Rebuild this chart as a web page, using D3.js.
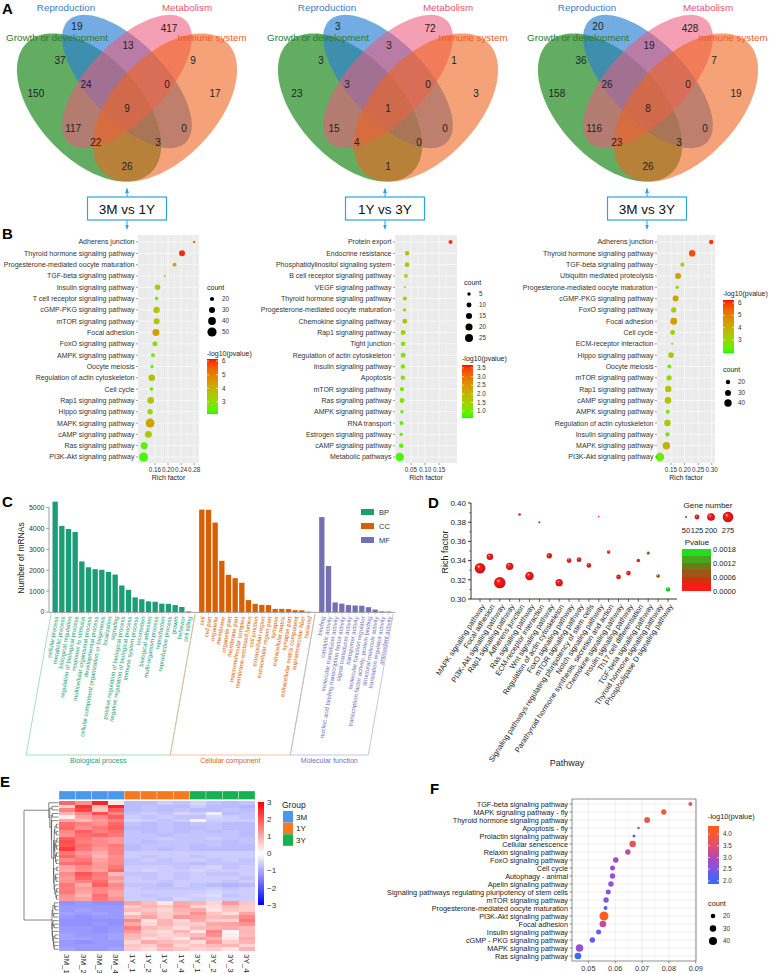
<!DOCTYPE html>
<html><head><meta charset="utf-8">
<script src="https://cdn.jsdelivr.net/npm/d3@7"></script>
<style>
html,body{margin:0;padding:0;background:#fff}
svg{display:block}
</style></head><body>
<svg id="fig" width="770" height="973"></svg>
<script>
// ================= DATA =================
// Panel A – Venn diagrams
const vennSets = ["Growth or development","Reproduction","Metabolism","Immune system"];
const vennComparisons = ["3M vs 1Y","1Y vs 3Y","3M vs 3Y"];
// region order: R, M, G∩R, R∩M, M∩I, G, G∩R∩M, R∩M∩I, I, all, G∩M, R∩I, G∩M∩I, G∩R∩I, G∩I
const venn3Mvs1Y = [19,417,37,13,9,150,24,0,17,9,117,0,22,3,26];
const venn1Yvs3Y = [3,72,3,3,1,23,3,0,3,1,15,0,4,0,1];
const venn3Mvs3Y = [20,428,36,19,7,158,26,0,19,8,116,0,23,3,26];

// Panel B – KEGG dot plots
const b1Pathways = ["Adherens junction","Thyroid hormone signaling pathway","Progesterone-mediated oocyte maturation","TGF-beta signaling pathway","Insulin signaling pathway","T cell receptor signaling pathway","cGMP-PKG signaling pathway","mTOR signaling pathway","Focal adhesion","FoxO signaling pathway","AMPK signaling pathway","Oocyte meiosis","Regulation of actin cytoskeleton","Cell cycle","Rap1 signaling pathway","Hippo signaling pathway","MAPK signaling pathway","cAMP signaling pathway","Ras signaling pathway","PI3K-Akt signaling pathway"];
const b1Rich = [0.280,0.243,0.220,0.190,0.168,0.165,0.165,0.165,0.163,0.160,0.154,0.151,0.150,0.149,0.147,0.145,0.145,0.140,0.127,0.125];
const b1Count = [13,29,19,11,27,17,31,29,35,24,19,16,33,17,33,26,48,35,35,48];
const b1LogP = [5.3,6.0,4.2,3.3,3.5,2.6,3.7,3.5,4.4,3.1,2.6,2.4,3.6,2.4,3.5,3.0,4.3,3.4,2.4,2.3];

const b2Pathways = ["Protein export","Endocrine resistance","Phosphatidylinositol signaling system","B cell receptor signaling pathway","VEGF signaling pathway","Thyroid hormone signaling pathway","Progesterone-mediated oocyte maturation","Chemokine signaling pathway","Rap1 signaling pathway","Tight junction","Regulation of actin cytoskeleton","Insulin signaling pathway","Apoptosis","mTOR signaling pathway","Ras signaling pathway","AMPK signaling pathway","RNA transport","Estrogen signaling pathway","cAMP signaling pathway","Metabolic pathways"];
const b2Rich = [0.191,0.036,0.036,0.032,0.028,0.028,0.027,0.028,0.022,0.022,0.022,0.021,0.021,0.018,0.018,0.018,0.016,0.015,0.015,0.010];
const b2Count = [7,8,9,6,2,7,5,10,10,9,10,8,8,8,10,5,7,5,8,27];
const b2LogP = [3.5,1.7,1.6,1.4,1.3,1.4,1.3,1.6,1.4,1.2,1.3,1.1,1.1,1.0,1.1,0.9,0.9,0.8,0.8,0.75];

const b3Pathways = ["Adherens junction","Thyroid hormone signaling pathway","TGF-beta signaling pathway","Ubiquitin mediated proteolysis","Progesterone-mediated oocyte maturation","cGMP-PKG signaling pathway","FoxO signaling pathway","Focal adhesion","Cell cycle","ECM-receptor interaction","Hippo signaling pathway","Oocyte meiosis","mTOR signaling pathway","Rap1 signaling pathway","cAMP signaling pathway","AMPK signaling pathway","Regulation of actin cytoskeleton","Insulin signaling pathway","MAPK signaling pathway","PI3K-Akt signaling pathway"];
const b3Rich = [0.298,0.228,0.192,0.176,0.173,0.167,0.160,0.160,0.156,0.154,0.150,0.144,0.143,0.140,0.139,0.138,0.137,0.137,0.133,0.109];
const b3Count = [20,33,18,30,15,30,25,36,23,10,27,18,25,33,34,18,33,20,40,50];
const b3LogP = [6.0,5.8,3.3,4.3,2.9,4.2,3.3,4.4,3.2,2.6,3.4,2.5,2.8,3.5,3.6,2.4,3.4,2.7,4.0,2.4];

// Panel C – GO annotation
const bpTerms = ["cellular process","metabolic process","biological regulation","regulation of biological process","response to stimulus","multicellular organismal process","developmental process","cellular component organization or biogenesis","localization","signaling","positive regulation of biological process","negative regulation of biological process","immune system process","locomotion","biological adhesion","multi-organism process","reproduction","reproductive process","growth","behavior","cell killing"];
const bpCounts = [5280,4120,3970,3830,2420,2140,2050,2020,1920,1790,1270,1060,700,610,510,490,400,390,330,240,30];
const ccTerms = ["cell","cell part","organelle","membrane","organelle part","membrane part","macromolecular complex","membrane-enclosed lumen","cell junction","extracellular region","extracellular region part","synapse","extracellular matrix","synapse part","extracellular matrix component","supramolecular fiber","nucleoid"];
const ccCounts = [4900,4890,4280,2450,1780,1620,1400,570,390,340,330,150,150,140,90,80,15];
const mfTerms = ["binding","catalytic activity","molecular transducer activity","nucleic acid binding transcription factor activity","signal transducer activity","transporter activity","molecular function regulator","transcription factor activity, protein binding","structural molecule activity","translation regulator activity","antioxidant activity"];
const mfCounts = [4540,2200,460,400,330,310,300,230,120,30,20];
const cYTicks = [0,1000,2000,3000,4000,5000];

// Panel D – bubble chart
const dPathways = ["MAPK signaling pathway","Focal adhesion","PI3K-Akt signaling pathway","Rap1 signaling pathway","Adherens junction","Ras signaling pathway","ECM-receptor interaction","Wnt signaling pathway","Regulation of actin cytoskeleton","FoxO signaling pathway","mTOR signaling pathway","Signaling pathways regulating pluripotency of stem cells","Notch signaling pathway","Parathyroid hormone synthesis, secretion and action","Chemokine signaling pathway","Insulin signaling pathway","Th17 cell differentiation","TGF-beta signaling pathway","Thyroid hormone signaling pathway","Phospholipase D signaling pathway"];
const dRich = [0.332,0.344,0.317,0.334,0.388,0.324,0.380,0.345,0.317,0.340,0.341,0.335,0.386,0.349,0.323,0.327,0.340,0.348,0.324,0.310];
const dGenes = [275,170,295,190,65,220,50,140,190,120,120,120,40,90,120,120,90,80,95,115];
const dPvalue = [0.00001,0.00002,0.00001,0.00002,0.0001,0.00002,0.0002,0.0001,0.00003,0.0001,0.0001,0.0001,0.0002,0.0002,0.0001,0.0001,0.0004,0.0007,0.0008,0.0017];
const dYTicks = [0.30,0.32,0.34,0.36,0.38,0.40];
const dGeneLegend = [50,125,200,275];
const dPLegend = [0.0000,0.0006,0.0012,0.0018];

// Panel E – heatmap (z-scores)
const heatSamples = ["3M_1","3M_2","3M_3","3M_4","1Y_1","1Y_2","1Y_3","1Y_4","3Y_1","3Y_2","3Y_3","3Y_4"];
const heatGroups = ["3M","1Y","3Y"];
const heatRows = [
 [1.3,0.9,1.7,1.1,-0.6,-0.7,-0.6,-0.6,-0.5,-0.4,-0.7,-0.6],
 [0.9,1.4,2.1,1.5,-0.7,-0.6,-0.7,-0.5,-0.6,-0.2,-0.8,-0.7],
 [0.2,1.1,1.4,1.9,-0.6,-0.7,-0.6,-0.7,-0.7,-0.5,-0.6,-0.7],
 [1.8,1.3,2.6,0.3,-0.8,-0.8,-0.6,-0.7,-0.5,-0.7,-0.8,-0.7],
 [1.1,0.8,1.2,1.5,-0.5,-0.6,-0.7,-0.6,0.2,-0.6,-0.6,-0.6],
 [0.5,2.4,0.8,2.6,-0.8,-0.7,-0.8,-0.8,-0.6,-0.8,-0.8,-0.9],
 [1.5,1.2,1.4,1.3,-0.6,-0.7,-0.7,-0.7,-0.7,-0.6,-0.7,-0.6],
 [1.4,1.6,1.1,1.4,-0.7,-0.6,-0.7,-0.6,-0.6,-0.7,-0.6,-0.7],
 [1.7,1.5,1.3,1.8,-0.7,-0.8,-0.7,-0.8,-0.7,-0.7,-0.8,-0.8],
 [1.2,1.8,1.5,1.2,-0.6,-0.7,-0.6,-0.7,-0.6,-0.6,-0.6,-0.7],
 [1.6,1.0,1.9,1.4,-0.7,-0.7,-0.8,-0.6,-0.7,-0.8,-0.9,-0.8],
 [2.0,1.7,1.4,1.6,-0.8,-0.7,-0.7,-0.7,-0.8,-0.7,-0.8,-0.8],
 [1.3,1.5,1.7,1.0,-0.6,-0.6,-0.7,-0.6,-0.6,-0.6,-0.7,-0.6],
 [1.8,1.3,1.6,1.9,-0.8,-0.8,-0.7,-0.8,-0.8,-0.7,-0.8,-0.8],
 [1.1,1.4,1.2,1.6,-0.6,-0.6,-0.6,-0.7,-0.6,-0.5,-0.7,-0.6],
 [1.9,1.6,1.3,1.2,-0.7,-0.7,-0.6,-0.7,-0.7,-0.6,-0.7,-0.7],
 [1.4,1.9,1.5,1.7,-0.7,-0.8,-0.7,-0.8,-0.7,-0.8,-0.7,-0.8],
 [1.6,1.2,1.0,1.5,-0.6,-0.6,-0.6,-0.6,-0.6,-0.6,-0.6,-0.6],
 [1.2,1.1,1.6,1.3,-0.6,-0.6,-0.7,-0.5,-0.6,-0.5,-0.6,-0.6],
 [1.7,1.8,1.2,1.4,-0.7,-0.7,-0.7,-0.7,-0.8,-0.7,-0.7,-0.7],
 [1.5,2.2,0.7,1.9,-0.8,-0.7,-0.8,-0.7,-0.8,-0.8,-0.7,-0.8],
 [2.1,1.5,1.4,1.2,-0.7,-0.8,-0.7,-0.7,-0.7,-0.7,-0.8,-0.7],
 [1.3,1.7,1.8,1.6,-0.7,-0.7,-0.8,-0.7,-0.7,-0.7,-0.7,-0.8],
 [1.0,1.3,1.1,1.8,-0.6,-0.5,-0.6,-0.6,-0.5,-0.6,-0.6,-0.6],
 [1.8,1.4,0.9,1.3,-0.6,-0.7,-0.6,-0.6,-0.7,-0.6,-0.6,-0.6],
 [1.4,2.0,1.6,0.8,-0.7,-0.7,-0.6,-0.7,-0.6,-0.7,-0.7,-0.6],
 [2.3,1.6,1.2,1.5,-0.8,-0.7,-0.8,-0.7,-0.8,-0.8,-0.8,-0.8],
 [1.6,1.1,1.4,1.1,-0.6,-0.6,-0.6,-0.6,-0.6,-0.5,-0.6,-0.6],
 [-1.2,-1.2,-1.3,-1.2,1.2,0.6,0.4,0.9,0.3,1.5,0.1,0.9],
 [-1.1,-1.2,-1.2,-1.1,0.9,0.7,0.5,0.6,0.8,1.3,0.2,0.8],
 [-1.3,-1.3,-1.3,-1.3,1.4,0.3,0.9,0.4,1.0,0.6,0.5,1.6],
 [-1.2,-1.2,-1.2,-1.2,0.6,0.9,0.7,1.1,0.5,0.4,0.8,0.6],
 [-1.1,-1.1,-1.2,-1.1,0.8,0.4,0.6,0.3,1.1,0.9,0.3,1.0],
 [-1.2,-1.3,-1.2,-1.2,0.5,1.0,0.8,0.7,0.4,1.2,0.6,0.9],
 [-1.3,-1.2,-1.3,-1.3,1.1,0.8,0.3,1.0,0.9,0.5,1.2,0.7],
 [-1.2,-1.2,-1.2,-1.2,0.7,0.6,1.0,0.5,0.7,0.8,0.9,0.5],
 [-1.1,-1.2,-1.1,-1.2,0.4,0.9,0.6,0.8,1.3,0.7,0.4,1.1],
 [-1.3,-1.3,-1.2,-1.3,1.0,0.5,0.9,0.6,0.6,1.0,1.1,1.3],
 [-1.2,-1.1,-1.2,-1.2,0.8,0.7,0.5,0.9,1.0,0.3,0.7,0.6],
 [-1.2,-1.2,-1.3,-1.2,1.5,0.8,0.7,0.4,0.8,0.9,1.0,0.8],
 [-1.1,-1.2,-1.2,-1.1,0.6,0.4,0.8,0.7,0.5,0.6,0.3,0.9],
 [-1.2,-1.3,-1.2,-1.2,0.9,1.1,0.6,1.2,1.1,0.8,0.9,1.4]
];
const heatLegendTicks = [-3,-2,-1,0,1,2,3];

// Panel F – dot plot
const fPathways = ["TGF-beta signaling pathway","MAPK signaling pathway - fly","Thyroid hormone signaling pathway","Apoptosis - fly","Prolactin signaling pathway","Cellular senescence","Relaxin signaling pathway","FoxO signaling pathway","Cell cycle","Autophagy - animal","Apelin signaling pathway","Signaling pathways regulating pluripotency of stem cells","mTOR signaling pathway","Progesterone-mediated oocyte maturation","PI3K-Akt signaling pathway","Focal adhesion","Insulin signaling pathway","cGMP - PKG signaling pathway","MAPK signaling pathway","Ras signaling pathway"];
const fRich = [0.0880,0.0781,0.0719,0.0687,0.0670,0.0665,0.0647,0.0602,0.0590,0.0590,0.0584,0.0574,0.0566,0.0564,0.0558,0.0554,0.0538,0.0515,0.0467,0.0461];
const fCount = [17,24,27,11,13,30,24,25,22,24,24,22,24,17,47,31,22,24,37,31];
const fLogP = [3.7,4.0,3.8,2.3,2.4,3.7,3.1,2.8,2.7,2.75,2.7,2.6,2.6,2.0,4.3,3.2,2.3,2.2,2.75,1.95];
const fXTicks = [0.05,0.06,0.07,0.08,0.09];

// ================= DRAWING =================
const FF = "'Liberation Sans', Arial, Helvetica, sans-serif";
const svg = d3.select("#fig").attr("font-family", FF);
const defs = svg.append("defs");

function txt(x, y, s, o = {}) {
  const t = svg.append("text").attr("x", x).attr("y", y).text(s)
    .attr("font-size", o.fs || 8).attr("fill", o.fill || "#222")
    .attr("text-anchor", o.anchor || "start");
  if (o.dy) t.attr("dy", o.dy);
  if (o.weight) t.attr("font-weight", o.weight);
  if (o.rotate !== undefined) t.attr("transform", `rotate(${o.rotate},${x},${y})`);
  return t;
}

// panel letters
[["A",2,14],["B",2,239],["C",2,507],["D",428,508],["E",0,787],["F",430,794]]
  .forEach(([l,x,y]) => txt(x,y,l,{fs:15,weight:"bold",fill:"#000"}));

// ---------- Panel A ----------
const vennCenters = [127, 388, 648];
const boxCenters = [127, 385, 647];
const vennData = [venn3Mvs1Y, venn1Yvs3Y, venn3Mvs3Y];
const vennEllipses = [
  {cx:0.35, cy:0.47, a:0.35, b:0.20, ang:135, fill:"#1f8a1f", op:0.7},
  {cx:0.50, cy:0.57, a:0.33, b:0.15, ang:135, fill:"#2a7fd4", op:0.66},
  {cx:0.50, cy:0.57, a:0.33, b:0.15, ang:45,  fill:"#ec5a7c", op:0.58},
  {cx:0.65, cy:0.47, a:0.35, b:0.20, ang:45,  fill:"#f0641e", op:0.6}
];
const vennRegionPos = [[0.302,0.782],[0.666,0.772],[0.235,0.649],[0.504,0.707],[0.761,0.649],[0.140,0.522],[0.338,0.560],[0.658,0.560],[0.848,0.522],[0.500,0.468],[0.287,0.391],[0.725,0.391],[0.377,0.337],[0.623,0.337],[0.500,0.245]];
const vennLabelStyle = [
  {set:0, dx:-70, y:41, color:"#2c7a2c"},
  {set:1, dx:-61, y:11, color:"#3b7cc8"},
  {set:2, dx:60,  y:11, color:"#e65570"},
  {set:3, dx:85,  y:41, color:"#f05a24"}
];
const ARROW = "#2ea4dc";
defs.append("marker").attr("id","arr").attr("viewBox","0 0 10 10").attr("refX",9).attr("refY",5)
  .attr("markerWidth",5).attr("markerHeight",5).attr("orient","auto")
  .append("path").attr("d","M0,1 L10,5 L0,9 Z").attr("fill",ARROW);

vennComparisons.forEach((comp, i) => {
  const cx = vennCenters[i];
  const sx = d3.scaleLinear().domain([0.5, 1.5]).range([cx, cx + 253]);
  const sy = d3.scaleLinear().domain([0.57, 1.57]).range([81.5, 81.5 - 260]);
  const line = d3.line().x(p => sx(p[0])).y(p => sy(p[1]));
  vennEllipses.forEach(e => {
    const th = e.ang * Math.PI / 180;
    const pts = d3.range(0, 361, 3).map(d => {
      const t = d * Math.PI / 180;
      return [e.cx + e.a*Math.cos(t)*Math.cos(th) - e.b*Math.sin(t)*Math.sin(th),
              e.cy + e.a*Math.cos(t)*Math.sin(th) + e.b*Math.sin(t)*Math.cos(th)];
    });
    svg.append("path").attr("d", line(pts) + "Z").attr("fill", e.fill).attr("fill-opacity", e.op);
  });
  vennData[i].forEach((v, k) => {
    txt(sx(vennRegionPos[k][0]), sy(vennRegionPos[k][1]), v, {fs:10, anchor:"middle", dy:"0.35em", fill:"#222"});
  });
  vennLabelStyle.forEach(l => txt(cx + l.dx, l.y, vennSets[l.set], {fs:9.8, anchor:"middle", fill:l.color}));
  // box + arrows
  const bx = boxCenters[i];
  svg.append("line").attr("x1",bx).attr("x2",bx).attr("y1",197).attr("y2",188.5)
    .attr("stroke",ARROW).attr("stroke-width",1).attr("marker-end","url(#arr)");
  svg.append("line").attr("x1",bx).attr("x2",bx).attr("y1",220).attr("y2",229)
    .attr("stroke",ARROW).attr("stroke-width",1).attr("marker-end","url(#arr)");
  svg.append("rect").attr("x",bx-39.5).attr("y",197).attr("width",79).attr("height",23)
    .attr("fill","#fff").attr("stroke",ARROW).attr("stroke-width",1.2);
  txt(bx, 213.5, comp, {fs:13.5, anchor:"middle", fill:"#111"});
});

// ---------- helpers for colour bars ----------
function colorBar(o) {
  const grad = defs.append("linearGradient").attr("id", o.id)
    .attr("x1",0).attr("y1",1).attr("x2",0).attr("y2",0);
  d3.range(0, 41).forEach(i => {
    const t = i / 40;
    grad.append("stop").attr("offset", t).attr("stop-color", o.scale(o.lo + t*(o.hi - o.lo)));
  });
  svg.append("rect").attr("x",o.x).attr("y",o.y).attr("width",o.w).attr("height",o.h).attr("fill",`url(#${o.id})`);
  const yy = d3.scaleLinear().domain([o.lo, o.hi]).range([o.y + o.h, o.y]);
  o.ticks.forEach(t => {
    if (o.marks) {
      svg.append("line").attr("x1",o.x).attr("x2",o.x+2).attr("y1",yy(t)).attr("y2",yy(t)).attr("stroke","#fff").attr("stroke-width",0.6);
      svg.append("line").attr("x1",o.x+o.w-2).attr("x2",o.x+o.w).attr("y1",yy(t)).attr("y2",yy(t)).attr("stroke","#fff").attr("stroke-width",0.6);
    }
    txt(o.lx, yy(t), o.fmt(t), {fs:o.fs, dy:"0.35em", fill:"#333"});
  });
}

// ---------- Panel B ----------
const greenRed = dom => d3.scaleLinear().domain(dom).range(["#00ff00","#ff0000"]).interpolate(d3.interpolateLab).clamp(true);

function dotPlot(o) {
  const top = 235, bottom = 463;
  const x = d3.scaleLinear().domain(o.xDomain).range([o.left, o.right]);
  const y = d3.scalePoint().domain(o.pathways).range([242, 457]);
  const col = greenRed(o.colorDomain);
  const r = d3.scalePow().exponent(0.5).domain(o.sizeDomain).range(o.sizeRange);
  const g = svg.append("g");
  g.append("rect").attr("x",o.left).attr("y",top).attr("width",o.right-o.left).attr("height",bottom-top).attr("fill","#ebebeb");
  const step = o.ticks[1] - o.ticks[0];
  const minors = [o.ticks[0]-step/2, ...o.ticks.map(t => t+step/2)].filter(v => v > o.xDomain[0] && v < o.xDomain[1]);
  minors.forEach(v => g.append("line").attr("x1",x(v)).attr("x2",x(v)).attr("y1",top).attr("y2",bottom).attr("stroke","#fff").attr("stroke-width",0.3));
  o.ticks.forEach(v => g.append("line").attr("x1",x(v)).attr("x2",x(v)).attr("y1",top).attr("y2",bottom).attr("stroke","#fff").attr("stroke-width",0.6));
  o.pathways.forEach(p => g.append("line").attr("x1",o.left).attr("x2",o.right).attr("y1",y(p)).attr("y2",y(p)).attr("stroke","#fff").attr("stroke-width",0.6));
  o.pathways.forEach((p, i) => {
    g.append("circle").attr("cx", x(o.rich[i])).attr("cy", y(p)).attr("r", Math.max(0.8, r(o.count[i]))).attr("fill", col(o.logp[i]));
  });
  o.pathways.forEach(p => {
    g.append("line").attr("x1",o.left-2).attr("x2",o.left).attr("y1",y(p)).attr("y2",y(p)).attr("stroke","#333").attr("stroke-width",0.5);
    txt(o.left-3.5, y(p), p, {fs:7, anchor:"end", dy:"0.35em", fill:"#333"});
  });
  o.ticks.forEach(v => {
    g.append("line").attr("x1",x(v)).attr("x2",x(v)).attr("y1",bottom).attr("y2",bottom+2).attr("stroke","#333").attr("stroke-width",0.5);
    txt(x(v), bottom+8.5, d3.format(o.tickFmt)(v), {fs:6.3, anchor:"middle", fill:"#333"});
  });
  txt((o.left+o.right)/2, 480, "Rich factor", {fs:7, anchor:"middle", fill:"#222"});
  // legends
  const L = o.legend;
  txt(L.countX, L.countY, "count", {fs:7, fill:"#222"});
  o.sizeTicks.forEach((s, k) => {
    svg.append("circle").attr("cx", L.countX+5).attr("cy", L.countItems[k]).attr("r", r(s)).attr("fill","#000");
    txt(L.countX+15, L.countItems[k], s, {fs:6.3, dy:"0.35em", fill:"#333"});
  });
  txt(L.barX, L.barTitleY, "-log10(pvalue)", {fs:7, fill:"#222"});
  colorBar({id:o.id, x:L.barX, y:L.barY, w:11, h:L.barH, scale:col, lo:o.colorDomain[0], hi:o.colorDomain[1],
    ticks:o.colorTicks, fmt:d3.format(o.colorFmt), lx:L.barX+15, fs:6.3, marks:true});
}

dotPlot({id:"gB1", pathways:b1Pathways, rich:b1Rich, count:b1Count, logp:b1LogP,
  left:138, right:199, xDomain:[0.108,0.295], ticks:[0.16,0.20,0.24,0.28], tickFmt:".2f",
  colorDomain:[2.12,6.15], colorTicks:[3,4,5,6], colorFmt:"d",
  sizeDomain:[20,50], sizeRange:[2.1,4.6], sizeTicks:[20,30,40,50],
  legend:{countX:207, countY:290, countItems:[299,310,321,332], barX:207, barTitleY:356, barY:359, barH:55}});

dotPlot({id:"gB2", pathways:b2Pathways, rich:b2Rich, count:b2Count, logp:b2LogP,
  left:395, right:457, xDomain:[-0.007,0.214], ticks:[0.05,0.10,0.15], tickFmt:".2f",
  colorDomain:[0.6,3.67], colorTicks:[1.0,1.5,2.0,2.5,3.0,3.5], colorFmt:".1f",
  sizeDomain:[5,25], sizeRange:[1.7,4.0], sizeTicks:[5,10,15,20,25],
  legend:{countX:464, countY:285, countItems:[294,305,316,327,338], barX:462, barTitleY:361, barY:365, barH:53}});

dotPlot({id:"gB3", pathways:b3Pathways, rich:b3Rich, count:b3Count, logp:b3LogP,
  left:657, right:715, xDomain:[0.0985,0.312], ticks:[0.15,0.20,0.25,0.30], tickFmt:".2f",
  colorDomain:[1.94,6.24], colorTicks:[3,4,5,6], colorFmt:"d",
  sizeDomain:[20,40], sizeRange:[2.2,3.7], sizeTicks:[20,30,40],
  legend:{countX:723, countY:372, countItems:[382,393,403], barX:723, barTitleY:296, barY:300, barH:53}});

// ---------- Panel C ----------
const cGroups = [
  {key:"BP", name:"Biological process", terms:bpTerms, counts:bpCounts, color:"#1b9e77", light:"#8fd3be"},
  {key:"CC", name:"Cellular component", terms:ccTerms, counts:ccCounts, color:"#d95f02", light:"#f2b48a"},
  {key:"MF", name:"Molecular function", terms:mfTerms, counts:mfCounts, color:"#7570b3", light:"#b8b5dc"}
];
const cKeys = [];
cGroups.forEach((g, gi) => { if (gi > 0) cKeys.push("gap" + gi); g.terms.forEach(t => cKeys.push(g.key + "|" + t)); });
const xb = d3.scaleBand().domain(cKeys).range([52.5, 52.5 + cKeys.length*6.64]).paddingInner(0.2).paddingOuter(0);
const yc = d3.scaleLinear().domain([0, 5000]).range([612, 507.5]);
const bw = xb.bandwidth();
cGroups.forEach(g => {
  g.terms.forEach((t, i) => {
    const k = g.key + "|" + t;
    svg.append("rect").attr("x", xb(k)).attr("y", yc(g.counts[i])).attr("width", bw)
      .attr("height", yc(0) - yc(g.counts[i])).attr("fill", g.color);
  });
});
// axes
svg.append("line").attr("x1",49).attr("x2",49).attr("y1",612).attr("y2",507).attr("stroke","#888").attr("stroke-width",0.8);
svg.append("line").attr("x1",49).attr("x2",395).attr("y1",612.4).attr("y2",612.4).attr("stroke","#888").attr("stroke-width",0.8);
cYTicks.forEach(v => {
  svg.append("line").attr("x1",46).attr("x2",49).attr("y1",yc(v)).attr("y2",yc(v)).attr("stroke","#888").attr("stroke-width",0.8);
  txt(44.5, yc(v), v, {fs:7, anchor:"end", dy:"0.35em", fill:"#333"});
});
txt(24, 558, "Number of mRNAs", {fs:8.5, anchor:"middle", rotate:-90, fill:"#222"});
const slope = Math.tan(10 * Math.PI / 180);
cGroups.forEach((g, gi) => {
  g.terms.forEach(t => {
    const k = g.key + "|" + t;
    const cxp = xb(k) + bw/2;
    svg.append("line").attr("x1",cxp).attr("x2",cxp).attr("y1",612.4).attr("y2",614.5).attr("stroke","#999").attr("stroke-width",0.5);
    txt(cxp + 1.5, 616.5, t, {fs:6, anchor:"end", fill:g.color, rotate:-80, dy:"0.3em"});
  });
  const firstK = g.key + "|" + g.terms[0], lastK = g.key + "|" + g.terms[g.terms.length-1];
  const eL = gi === 0 ? xb(firstK) - 1.5 : xb("gap" + gi) + bw/2;
  const eR = gi === cGroups.length-1 ? xb(lastK) + bw + 2 : xb("gap" + (gi+1)) + bw/2;
  const top = 614, bot = 755, off = (bot - top) * slope;
  svg.append("path").attr("d", `M${eL},${top}L${eL-off},${bot}L${eR-off},${bot}L${eR},${top}`)
    .attr("fill","none").attr("stroke", g.light).attr("stroke-width",0.8);
  txt((eL + eR)/2 - off, 763, g.name, {fs:7, anchor:"middle", fill:g.color});
});
// C legend
cGroups.forEach((g, i) => {
  svg.append("rect").attr("x",361).attr("y",509 + i*14).attr("width",13).attr("height",6).attr("fill",g.color);
  txt(379, 512 + i*14, g.key, {fs:7.5, dy:"0.35em", fill:"#333"});
});

// ---------- Panel D ----------
const xd = d3.scalePoint().domain(dPathways).range([480, 668]);
const yd = d3.scaleLinear().domain([0.30, 0.40]).range([599, 503]);
const rd = d3.scaleLinear().domain([0, 275]).range([0, 5.3]);
const pColors = ["#ff1a1a","#d2300f","#a05518","#6e7a18","#45a81e","#22dd22"];
const pd = d3.scaleQuantize().domain([0, 0.0018]).range(pColors);
pColors.forEach((c, i) => {
  const gr = defs.append("radialGradient").attr("id","sph"+i).attr("cx","50%").attr("cy","50%").attr("r","55%").attr("fx","35%").attr("fy","30%");
  gr.append("stop").attr("offset","0%").attr("stop-color", d3.interpolateRgb(c, "#fff")(0.75));
  gr.append("stop").attr("offset","30%").attr("stop-color", c);
  gr.append("stop").attr("offset","100%").attr("stop-color", d3.color(c).darker(0.9));
});
const sph = p => "url(#sph" + pColors.indexOf(pd(p)) + ")";
// axes
svg.append("line").attr("x1",471).attr("x2",471).attr("y1",599).attr("y2",503).attr("stroke","#000").attr("stroke-width",0.8);
svg.append("line").attr("x1",471).attr("x2",677).attr("y1",599).attr("y2",599).attr("stroke","#000").attr("stroke-width",0.8);
dYTicks.forEach(v => {
  svg.append("line").attr("x1",468).attr("x2",471).attr("y1",yd(v)).attr("y2",yd(v)).attr("stroke","#000").attr("stroke-width",0.8);
  txt(466, yd(v), d3.format(".2f")(v), {fs:8, anchor:"end", dy:"0.35em", fill:"#222"});
});
dYTicks.slice(0,-1).forEach(v => {
  const m = v + 0.01;
  svg.append("line").attr("x1",469.5).attr("x2",471).attr("y1",yd(m)).attr("y2",yd(m)).attr("stroke","#000").attr("stroke-width",0.6);
});
dPathways.forEach((p, i) => {
  svg.append("line").attr("x1",xd(p)).attr("x2",xd(p)).attr("y1",599).attr("y2",602).attr("stroke","#000").attr("stroke-width",0.6);
  txt(xd(p) + 3, 605, p, {fs:7.5, anchor:"end", rotate:-57, dy:"0.35em", fill:"#222"});
});
dPathways.forEach((p, i) => {
  svg.append("circle").attr("cx", xd(p)).attr("cy", yd(dRich[i])).attr("r", rd(dGenes[i])).attr("fill", sph(dPvalue[i]));
});
txt(448, 552, "Rich factor", {fs:9, anchor:"middle", rotate:-90, fill:"#222"});
txt(567, 766, "Pathway", {fs:9, anchor:"middle", fill:"#222"});
// D legends
txt(708, 508, "Gene number", {fs:8, anchor:"middle", fill:"#222"});
const gx = [686, 697, 711, 728];
dGeneLegend.forEach((gn, k) => {
  svg.append("circle").attr("cx", gx[k]).attr("cy", 517).attr("r", rd(gn)).attr("fill", sph(0));
  txt(gx[k], 533, gn, {fs:7.5, anchor:"middle", fill:"#222"});
});
txt(697, 545, "Pvalue", {fs:8, anchor:"middle", fill:"#222"});
const yp = d3.scaleLinear().domain([0, 0.0018]).range([591, 549]);
pColors.forEach(c => {
  const [a, b] = pd.invertExtent(c);
  svg.append("rect").attr("x",682).attr("y",yp(b)).attr("width",29).attr("height",yp(a)-yp(b)).attr("fill",c);
});
dPLegend.forEach(v => txt(713, yp(v), d3.format(".4f")(v), {fs:7.5, dy:"0.35em", fill:"#222"}));

// ---------- Panel E ----------
function hclust(rows) {
  const D = rows.map(a => rows.map(b => Math.sqrt(d3.sum(a, (v, k) => (v - b[k]) ** 2))));
  let cl = rows.map((r, i) => ({leaves:[i], h:0, idx:i}));
  while (cl.length > 1) {
    let best = [0, 1, Infinity];
    for (let i = 0; i < cl.length; i++) for (let j = i + 1; j < cl.length; j++) {
      const d = d3.mean(cl[i].leaves.flatMap(a => cl[j].leaves.map(b => D[a][b])));
      if (d < best[2]) best = [i, j, d];
    }
    const [i, j, d] = best;
    const n = {children:[cl[i], cl[j]], leaves:[...cl[i].leaves, ...cl[j].leaves], h:d};
    cl = cl.filter((_, k) => k !== i && k !== j);
    cl.push(n);
  }
  return cl[0];
}
const tree = hclust(heatRows);
tree.children.sort((a, b) => b.leaves.length - a.leaves.length);
const root = d3.hierarchy(tree, d => d.children);
const order = root.leaves().map(l => l.data.idx);
const hx = d3.scaleBand().domain(heatSamples).range([59, 255]);
const hy = d3.scaleBand().domain(order).range([801, 951]);
const heatColor = d3.scaleLinear().domain([-3, 0, 3]).range(["#0000ff", "#ffffff", "#ff0000"]);
order.forEach(ri => {
  heatSamples.forEach((s, ci) => {
    svg.append("rect").attr("x", hx(s)).attr("y", hy(ri)).attr("width", hx.bandwidth() + 0.3)
      .attr("height", hy.bandwidth() + 0.3).attr("fill", heatColor(heatRows[ri][ci])).attr("shape-rendering","crispEdges");
  });
});
const groupColor = d3.scaleOrdinal().domain(heatGroups).range(["#4a98ec","#f57a1f","#16b252"]);
heatSamples.forEach(s => {
  svg.append("rect").attr("x", hx(s)).attr("y", 791).attr("width", hx.bandwidth()).attr("height", 8.5)
    .attr("fill", groupColor(s.split("_")[0])).attr("stroke","#fff").attr("stroke-width",0.3);
  txt(hx(s) + hx.bandwidth()/2, 954, s, {fs:8, rotate:90, dy:"0.35em", fill:"#222"});
});
// dendrogram
const dx = d3.scaleLinear().domain([0, tree.h]).range([58.5, 24]);
const ypos = new Map();
root.eachAfter(n => {
  if (!n.children) ypos.set(n, hy(n.data.idx) + hy.bandwidth()/2);
  else ypos.set(n, d3.mean(n.children, c => ypos.get(c)));
});
root.each(n => {
  if (!n.children) return;
  const [c1, c2] = n.children;
  svg.append("path").attr("d", `M${dx(c1.data.h)},${ypos.get(c1)}H${dx(n.data.h)}V${ypos.get(c2)}H${dx(c2.data.h)}`)
    .attr("fill","none").attr("stroke","#333").attr("stroke-width",0.6);
});
colorBar({id:"gE", x:258, y:802, w:6, h:103, scale:heatColor, lo:-3, hi:3, ticks:heatLegendTicks,
  fmt:v => (v < 0 ? "\u2212" + (-v) : v), lx:267, fs:8, marks:false});
txt(282, 808, "Group", {fs:8.5, fill:"#222"});
heatGroups.forEach((g, i) => {
  svg.append("rect").attr("x", 283).attr("y", 811 + i*11.6).attr("width", 10).attr("height", 11.6).attr("fill", groupColor(g));
  txt(296, 817 + i*11.6, g, {fs:8, dy:"0.35em", fill:"#222"});
});

// ---------- Panel F ----------
const fx = d3.scaleLinear().domain([0.0439, 0.0901]).range([572, 696]);
const fy = d3.scalePoint().domain(fPathways).range([804, 956]);
const fCol = d3.scaleLinear().domain([1.87, 2.5, 3.0, 3.5, 4.34]).range(["#2f6cf8","#7f56e0","#b04ab5","#e0506a","#ff5e18"]).clamp(true);
const fr = d3.scalePow().exponent(0.5).domain([20, 40]).range([2.3, 4.0]);
svg.append("rect").attr("x",572).attr("y",799).attr("width",124).attr("height",162).attr("fill","#fff");
[0.045,0.055,0.065,0.075,0.085].forEach(v => svg.append("line").attr("x1",fx(v)).attr("x2",fx(v)).attr("y1",799).attr("y2",961).attr("stroke","#f2f2f2").attr("stroke-width",0.4));
fXTicks.forEach(v => svg.append("line").attr("x1",fx(v)).attr("x2",fx(v)).attr("y1",799).attr("y2",961).attr("stroke","#e6e6e6").attr("stroke-width",0.7));
fPathways.forEach(p => svg.append("line").attr("x1",572).attr("x2",696).attr("y1",fy(p)).attr("y2",fy(p)).attr("stroke","#e6e6e6").attr("stroke-width",0.7));
fPathways.forEach((p, i) => {
  svg.append("circle").attr("cx", fx(fRich[i])).attr("cy", fy(p)).attr("r", fr(fCount[i])).attr("fill", fCol(fLogP[i]));
});
svg.append("rect").attr("x",572).attr("y",799).attr("width",124).attr("height",162).attr("fill","none").attr("stroke","#444").attr("stroke-width",0.6);
fPathways.forEach(p => {
  svg.append("line").attr("x1",569.5).attr("x2",572).attr("y1",fy(p)).attr("y2",fy(p)).attr("stroke","#333").attr("stroke-width",0.5);
  txt(568, fy(p), p, {fs:7.3, anchor:"end", dy:"0.35em", fill:"#222"});
});
fXTicks.forEach(v => {
  svg.append("line").attr("x1",fx(v)).attr("x2",fx(v)).attr("y1",961).attr("y2",963.5).attr("stroke","#333").attr("stroke-width",0.5);
  txt(fx(v), 970.5, d3.format(".2f")(v), {fs:7.3, anchor:"middle", fill:"#333"});
});
txt(708, 819, "-log10(pvalue)", {fs:7.3, fill:"#222"});
colorBar({id:"gF", x:708, y:826, w:11, h:58, scale:fCol, lo:1.87, hi:4.34, ticks:[2.0,2.5,3.0,3.5,4.0],
  fmt:d3.format(".1f"), lx:723, fs:6.3, marks:true});
txt(708, 906, "count", {fs:7.3, fill:"#222"});
[20,30,40].forEach((c, k) => {
  const yy = [916, 928.5, 941][k];
  svg.append("circle").attr("cx",713).attr("cy",yy).attr("r",fr(c)).attr("fill","#000");
  txt(723, yy, c, {fs:6.3, dy:"0.35em", fill:"#333"});
});
</script>
</body></html>
